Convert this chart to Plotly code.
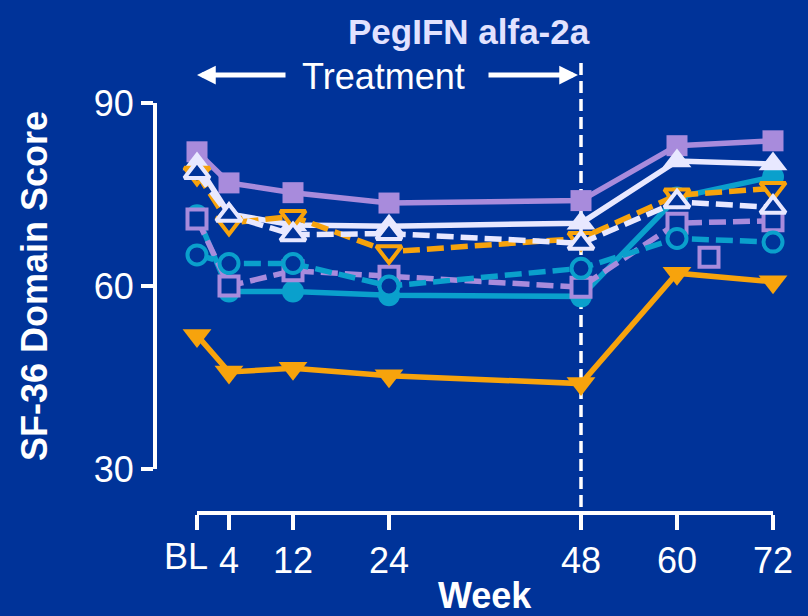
import plotly.graph_objects as go

# ---- data -------------------------------------------------------------
weeks = [0, 4, 12, 24, 48, 60, 72]
week_labels = ["", "4", "12", "24", "48", "60", "72"]
baseline_label = "BL"
score_ticks = [30, 60, 90]

purple_filled = [82.0, 76.9, 75.3, 73.6, 74.0, 83.0, 83.8]
white_filled = [80.0, 71.8, 70.0, 69.8, 70.3, 80.5, 80.0]
white_open = [78.6, 71.6, 68.4, 68.6, 67.0, 73.8, 72.9]
orange_open = [78.5, 70.3, 71.4, 65.6, 67.8, 74.9, 76.0]
purple_open = [71.0, 60.0, 62.5, 61.6, 59.8, 70.3, 70.7]
teal_open = [65.1, 63.7, 63.7, 60.0, 62.9, 67.8, 67.2]
teal_filled = [71.6, 59.1, 59.1, 58.5, 58.3, 74.5, 77.9]
orange_filled = [51.9, 45.9, 46.5, 45.3, 44.0, 62.1, 60.7]
stray_week = [64]
stray_score = [64.7]

# ---- styling ----------------------------------------------------------
BG = "#003399"
PURPLE = "#a88bdc"
WHITE = "#e8e8ff"
ORANGE = "#f7a30c"
TEAL = "#0aa0cc"
FONT = "Liberation Sans, Arial, sans-serif"
DASH = "17px,7px"

W, H = 808, 616
ML, MR, MT, MB = 155, 35, 103, 103
PW = W - ML - MR
PH = H - MT - MB


def px_x(px):
    return (px - ML) / PW


def px_y(py):
    return (H - MB - py) / PH


def series(y, color, symbol, size, dash=None, hollow=False, x=None):
    marker = dict(symbol=symbol, size=size)
    if hollow:
        marker.update(color=BG, line=dict(color=color, width=4))
    else:
        marker.update(color=color, line=dict(width=0))
    return go.Scatter(
        x=weeks if x is None else x,
        y=y,
        mode="lines+markers",
        line=dict(color=color, width=5.5, dash=dash),
        marker=marker,
        cliponaxis=False,
        showlegend=False,
        hoverinfo="skip",
    )


fig = go.Figure()
fig.add_trace(series(teal_filled, TEAL, "circle", 22))
fig.add_trace(series(purple_open, PURPLE, "square", 19, DASH, True))
fig.add_trace(series(stray_score, PURPLE, "square", 19, None, True, x=stray_week))
fig.add_trace(series(teal_open, TEAL, "circle", 19, DASH, True))
fig.add_trace(series(orange_filled, ORANGE, "triangle-down", 25))
fig.add_trace(series(purple_filled, PURPLE, "square", 21))
fig.add_trace(series(white_filled, WHITE, "triangle-up", 25))
fig.add_trace(series(orange_open, ORANGE, "triangle-down", 22, DASH, True))
fig.add_trace(series(white_open, WHITE, "triangle-up", 22, DASH, True))

# end of treatment marker at week 48
fig.add_shape(
    type="line", xref="x", yref="paper",
    x0=48, x1=48, y0=px_y(507), y1=px_y(60),
    line=dict(color="white", width=3.5, dash="12px,6px"),
    layer="below",
)

# "Treatment" span arrows
arrow = dict(xref="paper", yref="paper", text="", showarrow=True,
             arrowhead=2, arrowsize=0.75, arrowwidth=5, arrowcolor="white",
             axref="pixel", ayref="pixel", ay=0)
fig.add_annotation(x=px_x(197), y=px_y(75), ax=90, **arrow)
fig.add_annotation(x=px_x(578), y=px_y(75), ax=-91, **arrow)
fig.add_annotation(
    x=px_x(383), y=px_y(77), xref="paper", yref="paper",
    xanchor="center", yanchor="middle",
    text="Treatment", showarrow=False,
    font=dict(family=FONT, size=36, color="white"),
)
fig.add_annotation(
    x=px_x(469), y=px_y(31), xref="paper", yref="paper",
    xanchor="center", yanchor="middle",
    text="PegIFN alfa-2a", showarrow=False,
    font=dict(family=FONT, size=35, color="#e2e2ff", weight="bold"),
)
# baseline tick label, nudged left of its tick so it clears "4"
fig.add_annotation(
    x=weeks[0], y=px_y(556), xref="x", yref="paper",
    xanchor="center", yanchor="middle", xshift=-11,
    text=baseline_label, showarrow=False,
    font=dict(family=FONT, size=36, color="white"),
)
# x-axis title
fig.add_annotation(
    x=px_x(485), y=px_y(595), xref="paper", yref="paper",
    xanchor="center", yanchor="middle",
    text="Week", showarrow=False,
    font=dict(family=FONT, size=36, color="white", weight="bold"),
)

axis_common = dict(
    showline=True, linewidth=4, linecolor="white",
    ticks="outside", tickwidth=4, tickcolor="white",
    showgrid=False, zeroline=False, fixedrange=True,
    anchor="free", position=0, automargin=False, tickangle=0,
    tickfont=dict(family=FONT, size=36, color="white"),
)

fig.update_layout(
    width=W, height=H,
    margin=dict(l=ML, r=MR, t=MT, b=MB, pad=0, autoexpand=False),
    paper_bgcolor=BG, plot_bgcolor=BG,
    xaxis=dict(
        axis_common,
        domain=[px_x(197), 1], range=[0, 72],
        tickvals=weeks, ticktext=week_labels, ticklen=15,
    ),
    yaxis=dict(
        axis_common,
        domain=[px_y(469), 1], range=[30, 90],
        tickvals=score_ticks, ticklen=12,
        title=dict(text="SF-36 Domain Score", standoff=34,
                   font=dict(family=FONT, size=36, color="white", weight="bold")),
    ),
)

fig.write_html("out.html")
